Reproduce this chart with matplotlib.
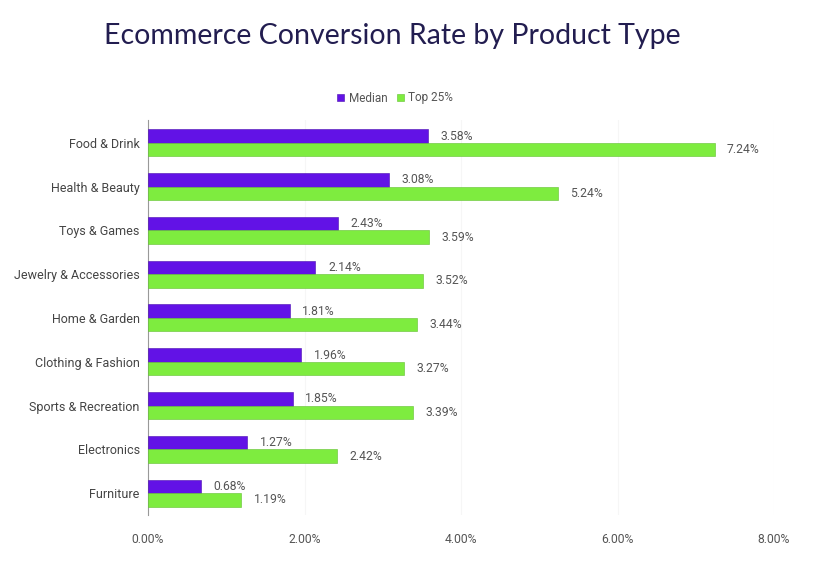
import matplotlib
matplotlib.use("Agg")
import matplotlib.pyplot as plt
import numpy as np

categories = ["Food & Drink", "Health & Beauty", "Toys & Games", "Jewelry & Accessories",
              "Home & Garden", "Clothing & Fashion", "Sports & Recreation", "Electronics", "Furniture"]
median = [3.58, 3.08, 2.43, 2.14, 1.81, 1.96, 1.85, 1.27, 0.68]
top25 = [7.24, 5.24, 3.59, 3.52, 3.44, 3.27, 3.39, 2.42, 1.19]
xticks = [0, 2, 4, 6, 8]

purple = "#6212e6"
green = "#7eec3f"
txt = "#555555"

plt.rcParams['font.family'] = ['Roboto', 'DejaVu Sans']

fig = plt.figure(figsize=(8.3, 5.69), dpi=100)
fig.patch.set_facecolor("white")
ax = fig.add_axes([148/830, 1-515/569, 626/830, 395/569])

y = np.arange(len(categories))
h = 0.307
ax.barh(y - h/2, median, height=h, color=purple, edgecolor="#4a0cb0", linewidth=0.4, label="Median", zorder=3)
ax.barh(y + h/2, top25, height=h, color=green, edgecolor="#62c030", linewidth=0.4, label="Top 25%", zorder=3)

for yi, v in zip(y, median):
    ax.text(v + 0.16, yi - h/2, f"{v:.2f}%", va="center", ha="left", fontsize=8.7, color=txt)
for yi, v in zip(y, top25):
    ax.text(v + 0.16, yi + h/2, f"{v:.2f}%", va="center", ha="left", fontsize=8.7, color=txt)

ax.set_xlim(0, 8)
ax.set_ylim(len(categories) - 0.5, -0.52)
ax.set_yticks(y)
ax.set_yticklabels(categories, fontsize=9, color="#444444")
ax.set_xticks(xticks)
ax.set_xticklabels([f"{t:.2f}%" for t in xticks], fontsize=8.7, color=txt)
ax.tick_params(axis="both", length=0)
ax.tick_params(axis="y", pad=6)
ax.tick_params(axis="x", pad=13)
for s in ["top", "right", "bottom"]:
    ax.spines[s].set_visible(False)
ax.spines["left"].set_color("#999999")
ax.spines["left"].set_linewidth(0.8)
ax.grid(axis="x", color="#f6f6f6", linewidth=0.8, zorder=0)
ax.set_axisbelow(True)

leg = fig.legend(loc="center", bbox_to_anchor=(395/830, 1-98/569), ncol=2, frameon=False,
                 fontsize=8.5, handlelength=0.6, handleheight=0.6, handletextpad=0.4,
                 columnspacing=0.8, labelcolor=txt)

fig.text(392/830, 1-36/569, "Ecommerce Conversion Rate by Product Type", ha="center", va="center",
         fontsize=20.5, color="#221d50", family=["Lato", "DejaVu Sans"])

fig.savefig("out.png", dpi=100)
